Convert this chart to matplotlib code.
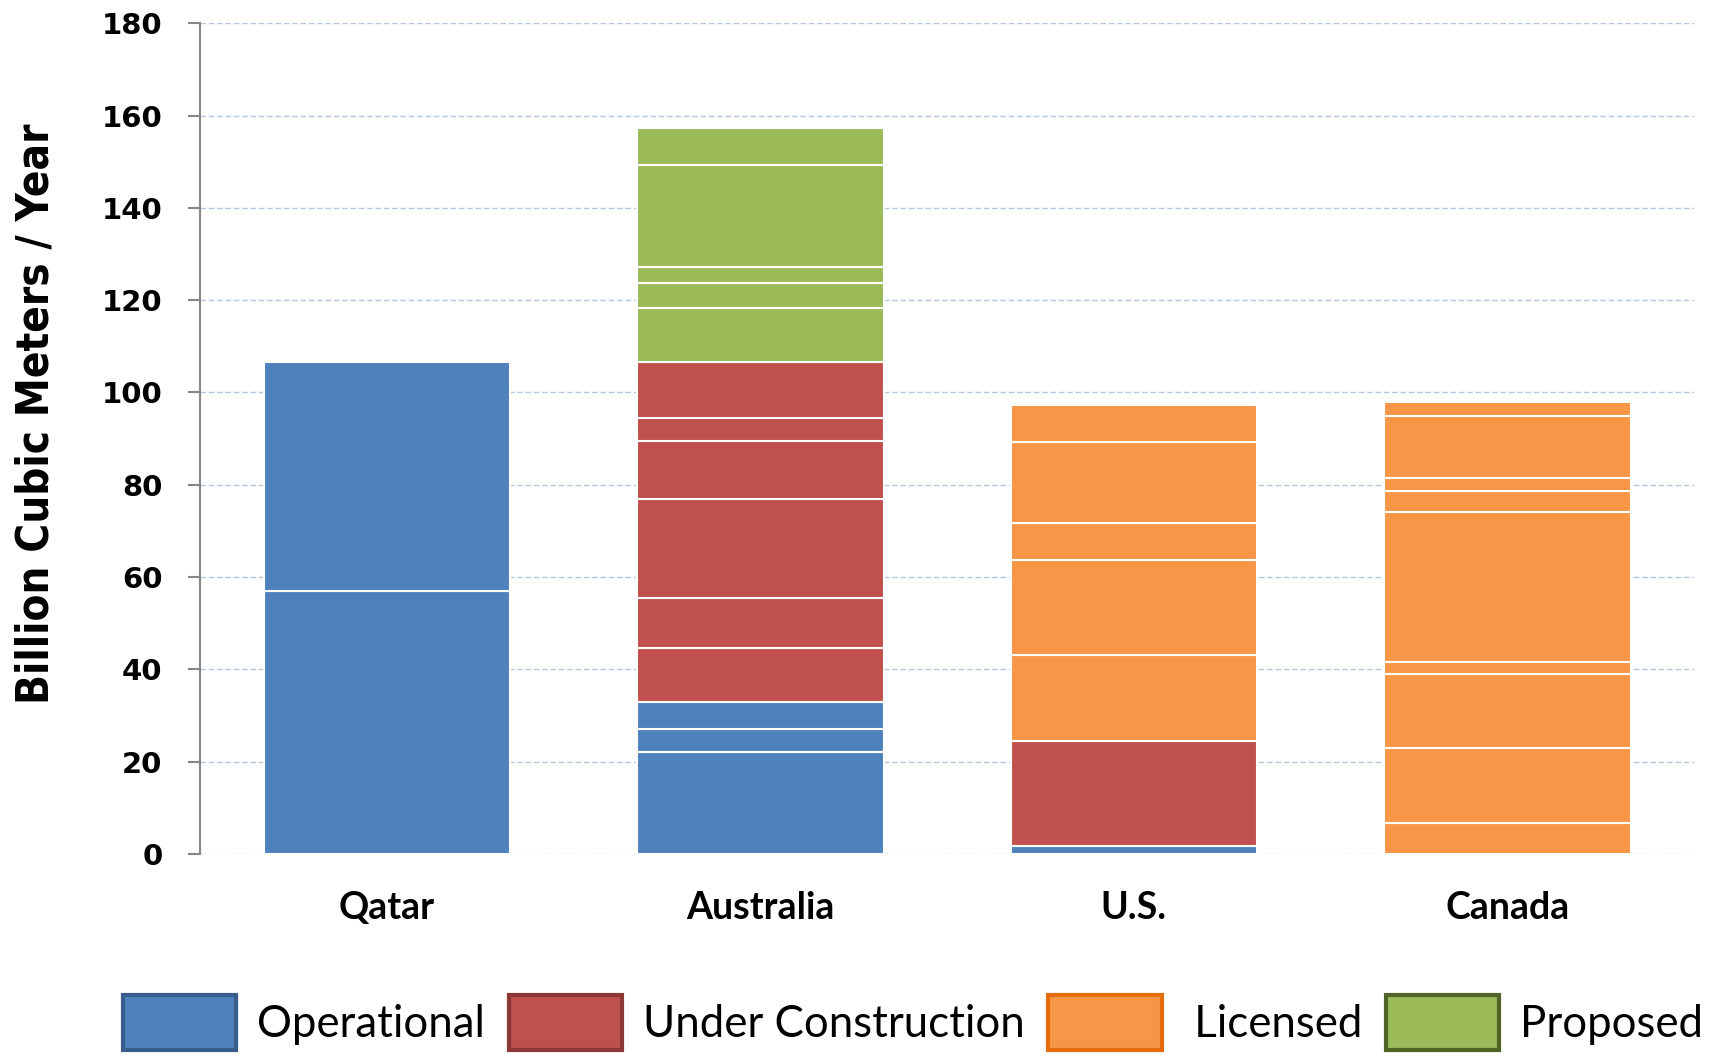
# -*- coding: utf-8 -*-
import matplotlib
matplotlib.use("Agg")
import matplotlib.pyplot as plt
from matplotlib.patches import Patch
from matplotlib import font_manager

# LNG export capacity, billion cubic meters per year, one entry per project
countries = ["Qatar", "Australia", "U.S.", "Canada"]
status_names = ["Operational", "Under Construction", "Licensed", "Proposed"]

qatar_operational = [56.9, 49.8]

australia_operational = [22.2, 4.9, 5.9]
australia_construction = [11.7, 10.8, 21.5, 12.4, 5.0, 12.3]
australia_proposed = [11.6, 5.5, 3.3, 22.1, 8.0]

us_operational = [1.7]
us_construction = [22.8]
us_licensed = [18.6, 20.6, 8.0, 17.5, 8.1]

canada_licensed = [6.7, 16.2, 16.2, 2.5, 32.4, 4.6, 2.9, 13.5, 2.9]

y_ticks = [0, 20, 40, 60, 80, 100, 120, 140, 160, 180]

fill_colors = ["#4f81bd", "#c0504d", "#f79646", "#9bbb59"]
edge_colors = ["#385d8a", "#8c3836", "#e46c0a", "#4f6228"]

# stacking order per country: operational, construction, licensed, proposed
projects = {
    "Qatar": [qatar_operational, [], [], []],
    "Australia": [australia_operational, australia_construction, [], australia_proposed],
    "U.S.": [us_operational, us_construction, us_licensed, []],
    "Canada": [[], [], canada_licensed, []],
}

# narrow bold face for the axis title, if one is installed
names = {f.name for f in font_manager.fontManager.ttflist}
condensed_ok = any(f.name == "DejaVu Sans" and "ondensed" in f.fname
                   for f in font_manager.fontManager.ttflist)

fig = plt.figure(figsize=(17.19, 10.56), dpi=100)
ax = fig.add_axes([0.1164, 0.1913, 0.8691, 0.7867])

for i, country in enumerate(countries):
    bottom = 0.0
    for k, segs in enumerate(projects[country]):
        for v in segs:
            ax.bar(i, v, bottom=bottom, width=0.66, color=fill_colors[k],
                   edgecolor="white", linewidth=1.5, zorder=3)
            bottom += v

ax.set_xlim(-0.5, 3.5)
ax.set_ylim(0, 180)
ax.set_yticks(y_ticks)
ax.set_yticklabels([str(t) for t in y_ticks], fontsize=21, fontweight="bold",
                   family="DejaVu Sans")
ax.set_xticks(range(len(countries)))
ax.set_xticklabels(countries, fontsize=27, fontweight="bold", family="Lato")

ax.yaxis.grid(True, color="#b3c7e0", linestyle=(0, (4, 2)), linewidth=1.0, zorder=0)
ax.set_axisbelow(True)

for side in ["top", "right", "bottom"]:
    ax.spines[side].set_visible(False)
ax.spines["left"].set_color("#868686")
ax.spines["left"].set_linewidth(1.5)
ax.tick_params(axis="y", direction="out", length=9, width=1.5, color="#868686", pad=18)
ax.tick_params(axis="x", length=0, pad=27)

if "Liberation Sans Narrow" in names:
    ylab_kw = dict(family=["Liberation Sans Narrow", "DejaVu Sans"], fontsize=34.5)
elif condensed_ok:
    ylab_kw = dict(family="DejaVu Sans", fontstretch="condensed", fontsize=31.5)
else:
    ylab_kw = dict(family="DejaVu Sans", fontsize=30.5)
fig.text(0.021, 0.608, "Billion Cubic Meters / Year", rotation=90,
         ha="center", va="center", fontweight="bold", **ylab_kw)

handles = [Patch(facecolor=fill_colors[k], edgecolor=edge_colors[k], linewidth=3)
           for k in range(4)]
labels = ["Operational", "Under Construction", " Licensed", "Proposed"]
fig.legend(handles, labels, loc="center", bbox_to_anchor=(0.531, 0.032), ncol=4,
           frameon=False, prop={"family": "Lato", "size": 31.5},
           handlelength=2.6, handleheight=1.55, handletextpad=0.47,
           columnspacing=0.54, borderpad=0)

fig.savefig("out.png", dpi=100)
